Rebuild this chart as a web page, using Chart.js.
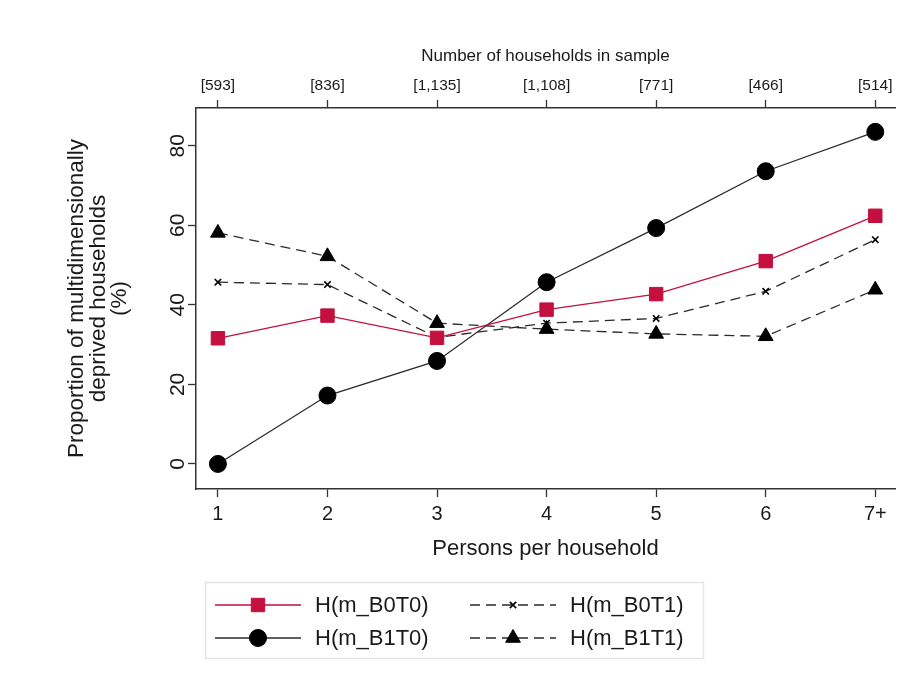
<!DOCTYPE html>
<html>
<head>
<meta charset="utf-8">
<script src="https://cdn.jsdelivr.net/npm/chart.js@4.4.1/dist/chart.umd.min.js"></script>
<style>
  html, body { margin: 0; padding: 0; background: #fff; }
  #wrap { width: 911px; height: 685px; position: relative; }
</style>
</head>
<body>
<div id="wrap"><canvas id="chart"></canvas></div>
<script>
// categories and data
const persons = ['1', '2', '3', '4', '5', '6', '7+'];
const sampleSizes = ['[593]', '[836]', '[1,135]', '[1,108]', '[771]', '[466]', '[514]'];
const yTicks = [0, 20, 40, 60, 80];

const seriesNames = ['H(m_B0T0)', 'H(m_B0T1)', 'H(m_B1T0)', 'H(m_B1T1)'];
const b0t0 = [31.6, 37.3, 31.7, 38.8, 42.7, 51.0, 62.4];
const b0t1 = [45.7, 45.1, 31.8, 35.4, 36.6, 43.4, 56.4];
const b1t0 = [0.0, 17.2, 25.9, 45.7, 59.3, 73.6, 83.5];
const b1t1 = [58.1, 52.2, 35.4, 33.9, 32.7, 32.1, 43.8];

const FONT = "'Liberation Sans', Arial, Helvetica, sans-serif";
const RED = '#c3103f';
const INK = '#1a1a1a';
const LINE = '#2a2a2a';

const xPos = persons.map((p, i) => i + 1);
const toPoints = vals => vals.map((v, i) => ({ x: xPos[i], y: v }));

// legend drawn in a box under the plot (line + marker + name)
const boxLegend = {
  id: 'boxLegend',
  afterDraw(chart) {
    const ctx = chart.ctx;
    ctx.save();
    ctx.strokeStyle = '#e3e6e6';
    ctx.lineWidth = 1.5;
    ctx.strokeRect(205.5, 582.5, 498, 76);

    const slots = [
      { ds: 0, x: 215, y: 605 },
      { ds: 1, x: 470, y: 605 },
      { ds: 2, x: 215, y: 638 },
      { ds: 3, x: 470, y: 638 }
    ];
    slots.forEach(s => {
      const d = chart.data.datasets[s.ds];
      ctx.save();
      ctx.strokeStyle = d.borderColor;
      ctx.lineWidth = d.borderWidth;
      ctx.setLineDash(d.borderDash || []);
      ctx.beginPath();
      ctx.moveTo(s.x, s.y);
      ctx.lineTo(s.x + 86, s.y);
      ctx.stroke();
      ctx.setLineDash([]);
      ctx.fillStyle = d.pointBackgroundColor;
      ctx.strokeStyle = d.pointBorderColor;
      ctx.lineWidth = d.pointBorderWidth;
      Chart.helpers.drawPoint(ctx, {
        pointStyle: d.pointStyle,
        radius: d.pointRadius,
        borderWidth: d.pointBorderWidth,
        rotation: 0
      }, s.x + 43, s.y);
      ctx.restore();
      ctx.fillStyle = INK;
      ctx.font = '22px ' + FONT;
      ctx.textBaseline = 'middle';
      ctx.textAlign = 'left';
      ctx.fillText(seriesNames[s.ds], s.x + 100, s.y + 1);
    });
    ctx.restore();
  }
};

function lineSet(label, vals, color, dash, style, radius) {
  const mark = color === RED ? RED : '#000';
  return {
    label: label,
    data: toPoints(vals),
    borderColor: color,
    borderWidth: 1.3,
    borderDash: dash,
    pointStyle: style,
    pointRadius: radius,
    pointHoverRadius: radius,
    pointBackgroundColor: mark,
    pointBorderColor: mark,
    pointBorderWidth: style === 'crossRot' ? 1.6 : 1,
    tension: 0,
    clip: false
  };
}

const ctx = document.getElementById('chart').getContext('2d');
new Chart(ctx, {
  type: 'line',
  data: {
    datasets: [
      lineSet(seriesNames[0], b0t0, RED, [], 'rect', 9.5),
      lineSet(seriesNames[1], b0t1, LINE, [10, 6], 'crossRot', 4.5),
      lineSet(seriesNames[2], b1t0, LINE, [], 'circle', 8.5),
      lineSet(seriesNames[3], b1t1, LINE, [10, 6], 'triangle', 8.5)
    ]
  },
  options: {
    responsive: true,
    maintainAspectRatio: false,
    animation: false,
    layout: { padding: { left: 0, top: 40, right: 16, bottom: 121 } },
    plugins: {
      legend: { display: false },
      tooltip: { enabled: false }
    },
    scales: {
      x: {
        type: 'linear',
        position: 'bottom',
        min: 0.8,
        max: 7.18,
        afterBuildTicks: s => { s.ticks = xPos.map(v => ({ value: v })); },
        afterFit: s => { s.height = 75; },
        ticks: {
          callback: v => persons[v - 1],
          color: INK,
          font: { family: FONT, size: 20 },
          padding: 5,
          maxRotation: 0
        },
        grid: { drawOnChartArea: false, tickLength: 8, tickColor: '#333', tickWidth: 1.3 },
        border: { display: true, color: '#333', width: 1.5 },
        title: {
          display: true,
          text: 'Persons per household',
          color: INK,
          font: { family: FONT, size: 22 },
          padding: { top: 2, bottom: 2 }
        }
      },
      x2: {
        type: 'linear',
        position: 'top',
        min: 0.8,
        max: 7.18,
        afterBuildTicks: s => { s.ticks = xPos.map(v => ({ value: v })); },
        afterFit: s => { s.height = 68; },
        ticks: {
          callback: v => sampleSizes[v - 1],
          color: INK,
          font: { family: FONT, size: 15.5 },
          padding: 5,
          maxRotation: 0
        },
        grid: { drawOnChartArea: false, tickLength: 8, tickColor: '#333', tickWidth: 1.3 },
        border: { display: true, color: '#333', width: 1.5 },
        title: {
          display: true,
          text: 'Number of households in sample',
          color: INK,
          font: { family: FONT, size: 17 },
          padding: { top: 6, bottom: 4 }
        }
      },
      y: {
        type: 'linear',
        position: 'left',
        min: -6.3,
        max: 89.5,
        afterBuildTicks: s => { s.ticks = yTicks.map(v => ({ value: v })); },
        afterFit: s => { s.width = 196; },
        ticks: {
          color: INK,
          font: { family: FONT, size: 21 },
          minRotation: 90,
          maxRotation: 90,
          crossAlign: 'center',
          padding: -2
        },
        grid: { drawOnChartArea: false, tickLength: 8, tickColor: '#333', tickWidth: 1.3 },
        border: { display: true, color: '#333', width: 1.5 },
        title: {
          display: true,
          text: ['Proportion of multidimensionally', 'deprived households', '(%)'],
          color: INK,
          font: { family: FONT, size: 22.5, lineHeight: 0.96 },
          padding: { top: 66, bottom: 0 }
        }
      }
    }
  },
  plugins: [boxLegend]
});
</script>
</body>
</html>
